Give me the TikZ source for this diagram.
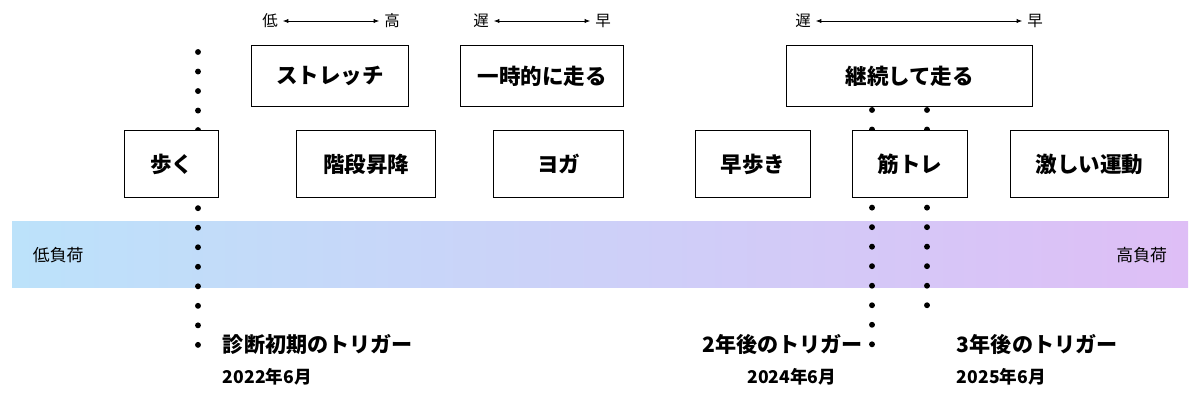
\documentclass[tikz,border=0pt]{standalone}
\usepackage{fontspec}
\newfontfamily\jp{Noto Sans CJK JP}
\usetikzlibrary{arrows.meta}

\begin{document}
\begin{tikzpicture}[x=0.025cm,y=-0.025cm,
    act/.style={draw=black,line width=1pt,fill=white,anchor=north west,inner sep=0pt,font=\jp\fontsize{15.3}{17}\selectfont\bfseries},
    lbl/.style={font=\jp\fontsize{11}{13}\selectfont},
    dotline/.style={line width=4.2pt,line cap=round,dash pattern=on 0pt off 0.488cm},
    spanarrow/.style={{Latex[length=4pt]}-{Latex[length=4pt]},line width=0.6pt}]
    \useasboundingbox (0,0) rectangle (1200,405);

    % load band
    \shade[left color={rgb,255:red,188;green,226;blue,250},right color={rgb,255:red,222;green,190;blue,246}]
        (12,222) rectangle (1188,288);
    \node[lbl,font=\jp\fontsize{12}{14}\selectfont,anchor=west] (lo) at (28,255) {低負荷};
    \node[lbl,font=\jp\fontsize{12}{14}\selectfont,anchor=east] (hi) at (1172,255) {高負荷};

    % trigger lines
    \coordinate (T0a) at (198,52);  \coordinate (T0b) at (198,345);
    \coordinate (T1a) at (872,110); \coordinate (T1b) at (872,345);
    \coordinate (T2a) at (927,110); \coordinate (T2b) at (927,306);
    \draw[dotline] (T0a) -- (T0b);
    \draw[dotline] (T1a) -- (T1b);
    \draw[dotline] (T2a) -- (T2b);

    % upper row
    \node[act,minimum width=157*0.025cm,minimum height=61*0.025cm] (B1) at (251,45) {ストレッチ};
    \node[act,minimum width=163*0.025cm,minimum height=61*0.025cm] (B2) at (460,45) {一時的に走る};
    \node[act,minimum width=246*0.025cm,minimum height=61*0.025cm] (B3) at (786,45) {継続して走る};

    % lower row
    \node[act,minimum width=94*0.025cm,minimum height=67*0.025cm] (C1) at (124,130) {歩く};
    \node[act,minimum width=139*0.025cm,minimum height=67*0.025cm] (C2) at (296,130) {階段昇降};
    \node[act,minimum width=130*0.025cm,minimum height=67*0.025cm] (C3) at (493,130) {ヨガ};
    \node[act,minimum width=115*0.025cm,minimum height=67*0.025cm] (C4) at (695,130) {早歩き};
    \node[act,minimum width=115*0.025cm,minimum height=67*0.025cm] (C5) at (852,130) {筋トレ};
    \node[act,minimum width=158*0.025cm,minimum height=67*0.025cm] (C6) at (1010,130) {激しい運動};

    % ranges
    \node[lbl] (r1a) at (270,21) {低};
    \node[lbl] (r1b) at (392,21) {高};
    \draw[spanarrow] (r1a) -- (r1b);
    \node[lbl] (r2a) at (481,21) {遅};
    \node[lbl] (r2b) at (603,21) {早};
    \draw[spanarrow] (r2a) -- (r2b);
    \node[lbl] (r3a) at (803,21) {遅};
    \node[lbl] (r3b) at (1035,21) {早};
    \draw[spanarrow] (r3a) -- (r3b);

    % triggers
    \node[lbl,font=\jp\fontsize{15}{17}\selectfont\bfseries,anchor=west] (t0) at (218,344) {診断初期のトリガー};
    \node[lbl,font=\jp\fontsize{12.5}{14}\selectfont\bfseries,anchor=west] (d0) at (218,377) {2022年6月};
    \node[lbl,font=\jp\fontsize{15}{17}\selectfont\bfseries,anchor=east] (t1) at (868,344) {2年後のトリガー};
    \node[lbl,font=\jp\fontsize{12.5}{14}\selectfont\bfseries,anchor=east] (d1) at (841,377) {2024年6月};
    \node[lbl,font=\jp\fontsize{15}{17}\selectfont\bfseries,anchor=west] (t2) at (952,344) {3年後のトリガー};
    \node[lbl,font=\jp\fontsize{12.5}{14}\selectfont\bfseries,anchor=west] (d2) at (952,377) {2025年6月};
\end{tikzpicture}
\end{document}
